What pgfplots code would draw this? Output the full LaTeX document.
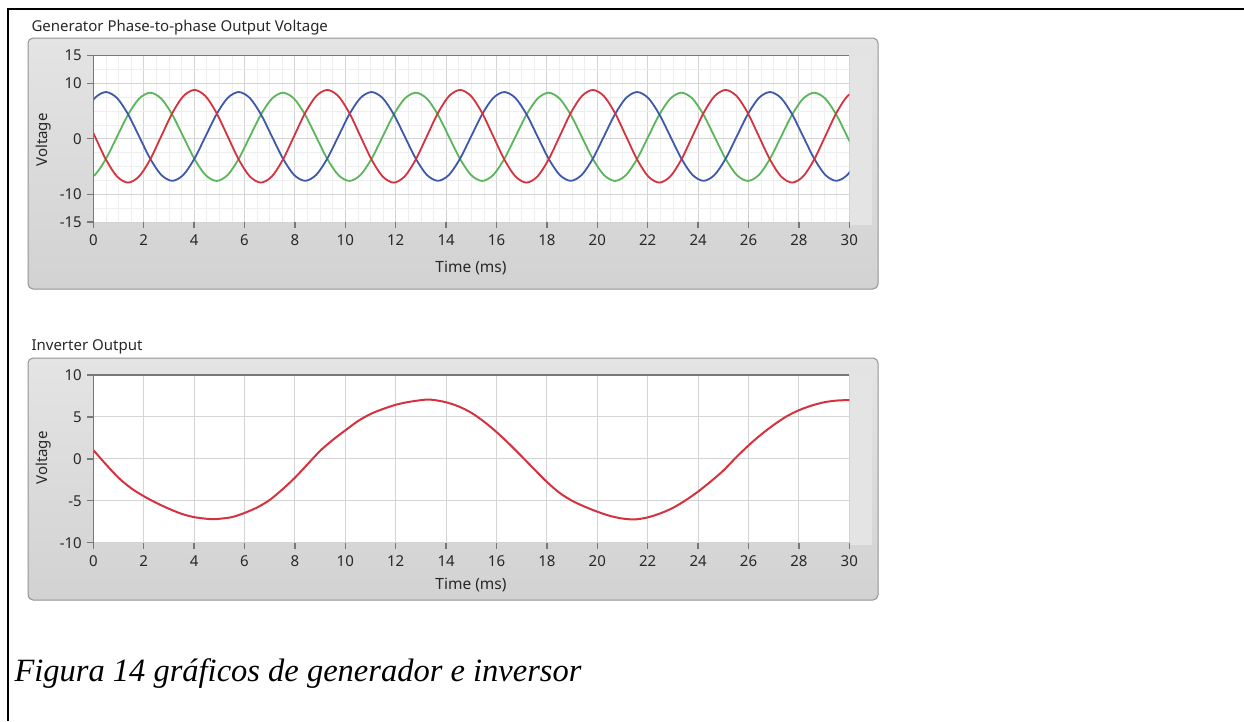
\documentclass[border=0pt]{standalone}
\usepackage{fontspec}
\newfontfamily\lvfont{Noto Sans}
\newfontfamily\capfont{Liberation Serif}
\usepackage{pgfplots}
\usepackage{pgfplotstable}
\pgfplotsset{compat=1.18}

\definecolor{lvblue}{RGB}{62,88,170}
\definecolor{lvgreen}{RGB}{90,182,90}
\definecolor{lvred}{RGB}{212,50,62}
\definecolor{panel}{RGB}{210,210,210}
\definecolor{panelhi}{RGB}{228,228,228}
\definecolor{gridmaj}{RGB}{212,212,212}
\definecolor{gridmin}{RGB}{238,238,238}
\definecolor{axisln}{RGB}{120,120,120}
\definecolor{txt}{RGB}{40,40,40}

% generator: time (ms), blue, green, red phase voltages
\pgfplotstableread{
t b g r
-0.378 4.42 -7.60 4.63
0.061 7.35 -6.53 0.45
0.500 8.42 -3.63 -3.73
0.939 7.35 0.35 -6.78
1.379 4.42 4.33 -7.90
1.818 0.42 7.23 -6.78
2.257 -3.58 8.30 -3.73
2.696 -6.51 7.23 0.45
3.135 -7.58 4.33 4.63
3.574 -6.51 0.35 7.68
4.014 -3.58 -3.63 8.80
4.453 0.42 -6.53 7.68
4.892 4.42 -7.60 4.63
5.331 7.35 -6.53 0.45
5.770 8.42 -3.63 -3.73
6.209 7.35 0.35 -6.78
6.649 4.42 4.33 -7.90
7.088 0.42 7.23 -6.78
7.527 -3.58 8.30 -3.73
7.966 -6.51 7.23 0.45
8.405 -7.58 4.33 4.63
8.844 -6.51 0.35 7.68
9.284 -3.58 -3.63 8.80
9.723 0.42 -6.53 7.68
10.162 4.42 -7.60 4.63
10.601 7.35 -6.53 0.45
11.040 8.42 -3.63 -3.73
11.479 7.35 0.35 -6.78
11.919 4.42 4.33 -7.90
12.358 0.42 7.23 -6.78
12.797 -3.58 8.30 -3.73
13.236 -6.51 7.23 0.45
13.675 -7.58 4.33 4.63
14.114 -6.51 0.35 7.68
14.554 -3.58 -3.63 8.80
14.993 0.42 -6.53 7.68
15.432 4.42 -7.60 4.63
15.871 7.35 -6.53 0.45
16.310 8.42 -3.63 -3.73
16.749 7.35 0.35 -6.78
17.189 4.42 4.33 -7.90
17.628 0.42 7.23 -6.78
18.067 -3.58 8.30 -3.73
18.506 -6.51 7.23 0.45
18.945 -7.58 4.33 4.63
19.384 -6.51 0.35 7.68
19.824 -3.58 -3.63 8.80
20.263 0.42 -6.53 7.68
20.702 4.42 -7.60 4.63
21.141 7.35 -6.53 0.45
21.580 8.42 -3.63 -3.73
22.019 7.35 0.35 -6.78
22.459 4.42 4.33 -7.90
22.898 0.42 7.23 -6.78
23.337 -3.58 8.30 -3.73
23.776 -6.51 7.23 0.45
24.215 -7.58 4.33 4.63
24.654 -6.51 0.35 7.68
25.094 -3.58 -3.63 8.80
25.533 0.42 -6.53 7.68
25.972 4.42 -7.60 4.63
26.411 7.35 -6.53 0.45
26.850 8.42 -3.63 -3.73
27.289 7.35 0.35 -6.78
27.729 4.42 4.33 -7.90
28.168 0.42 7.23 -6.78
28.607 -3.58 8.30 -3.73
29.046 -6.51 7.23 0.45
29.485 -7.58 4.33 4.63
29.924 -6.51 0.35 7.68
30.364 -3.58 -3.63 8.80
}\gen

% inverter output
\pgfplotstableread{
t v
0.0 1.05
0.5 -0.65
1.0 -2.25
1.5 -3.50
2.0 -4.45
2.5 -5.25
3.0 -5.95
3.5 -6.55
4.0 -6.95
4.5 -7.15
4.75 -7.20
5.0 -7.15
5.5 -6.95
6.0 -6.45
6.5 -5.80
7.0 -4.90
7.5 -3.65
8.0 -2.25
8.5 -0.65
9.0 0.95
9.5 2.25
10.0 3.40
10.5 4.50
11.0 5.35
11.5 5.95
12.0 6.45
12.5 6.78
13.0 7.00
13.25 7.07
13.5 7.03
14.0 6.75
14.5 6.25
15.0 5.50
15.5 4.45
16.0 3.20
16.5 1.80
17.0 0.30
17.5 -1.25
18.0 -2.75
18.5 -4.05
19.0 -5.00
19.5 -5.70
20.0 -6.30
20.5 -6.80
21.0 -7.12
21.5 -7.22
22.0 -6.98
22.5 -6.50
23.0 -5.85
23.5 -4.95
24.0 -3.90
24.5 -2.70
25.0 -1.40
25.5 0.15
26.0 1.60
26.5 2.90
27.0 4.05
27.5 5.05
28.0 5.80
28.5 6.35
29.0 6.75
29.5 6.95
30.0 7.02
}\inv

\pgfplotsset{lvaxis/.style={scale only axis,width=756pt,anchor=south west,
  xmin=0,xmax=30,xtick={0,2,...,30},tick pos=left,tick align=outside,
  major tick length=6pt,minor tick length=0pt,tick style={axisln,line width=1.3pt},
  axis line style={draw=none},axis background/.style={fill=white},
  major grid style={gridmaj,line width=0.9pt},minor grid style={gridmin,line width=0.6pt},
  tick label style={font=\lvfont\fontsize{15}{17}\selectfont,text=txt},
  xticklabel style={yshift=-3pt},yticklabel style={xshift=-2pt},
  /pgf/number format/assume math mode=true}}

\begin{document}
\begin{tikzpicture}
\begin{scope}[x=1pt,y=-1pt]
\useasboundingbox (0,0) rectangle (1244,721);
% page frame of the table cell
\draw[line width=1.6pt] (8,721) -- (8,9) -- (1244,9);
% graph panels
\draw[panel!70!black,top color=panelhi,bottom color=panel,rounded corners=5pt,line width=1pt] (28,38) rectangle (878,289);
\draw[panel!70!black,top color=panelhi,bottom color=panel,rounded corners=5pt,line width=1pt] (28,358) rectangle (878,600);
\fill[panelhi] (850,55.5) rectangle (872,225);
\fill[panelhi] (850,375) rectangle (872,545);
\end{scope}

\begin{axis}[lvaxis,at={(93.3pt,-222pt)},height=166.5pt,
  ymin=-15,ymax=15,ytick={-15,-10,0,10,15},grid=both,minor x tick num=3,
  minor ytick={-12.5,-7.5,-5,-2.5,2.5,5,7.5,12.5}]
\addplot[lvgreen,line width=1.8pt,smooth] table[x=t,y=g]{\gen};
\addplot[lvblue,line width=1.8pt,smooth] table[x=t,y=b]{\gen};
\addplot[lvred,line width=1.8pt,smooth] table[x=t,y=r]{\gen};
\end{axis}

\begin{axis}[lvaxis,at={(93.3pt,-542.7pt)},height=167.7pt,
  ymin=-10,ymax=10,ytick={-10,-5,0,5,10},grid=major]
\addplot[lvred,line width=2pt,smooth] table[x=t,y=v]{\inv};
\end{axis}

\begin{scope}[x=1pt,y=-1pt]
\draw[axisln,line width=1.6pt] (93.3,225) -- (93.3,55.5) -- (849.3,55.5);
\draw[axisln,line width=1.6pt] (93.3,545) -- (93.3,375) -- (849.3,375);
\node[anchor=base west,font=\lvfont\fontsize{15}{17}\selectfont,text=txt] at (28,31.5) {Generator Phase-to-phase Output Voltage};
\node[anchor=base west,font=\lvfont\fontsize{15}{17}\selectfont,text=txt] at (28,350) {Inverter Output};
\node[rotate=90,font=\lvfont\fontsize{15}{17}\selectfont,text=txt] at (44,140) {Voltage};
\node[rotate=90,font=\lvfont\fontsize{15}{17}\selectfont,text=txt] at (44,458) {Voltage};
\node[font=\lvfont\fontsize{15.5}{18}\selectfont,text=txt] at (471,268) {Time (ms)};
\node[font=\lvfont\fontsize{15.5}{18}\selectfont,text=txt] at (471,585) {Time (ms)};
\node[anchor=base west,font=\capfont\itshape\fontsize{32.5}{38}\selectfont] at (11,681) {Figura 14 gráficos de generador e inversor};
\end{scope}
\end{tikzpicture}
\end{document}
